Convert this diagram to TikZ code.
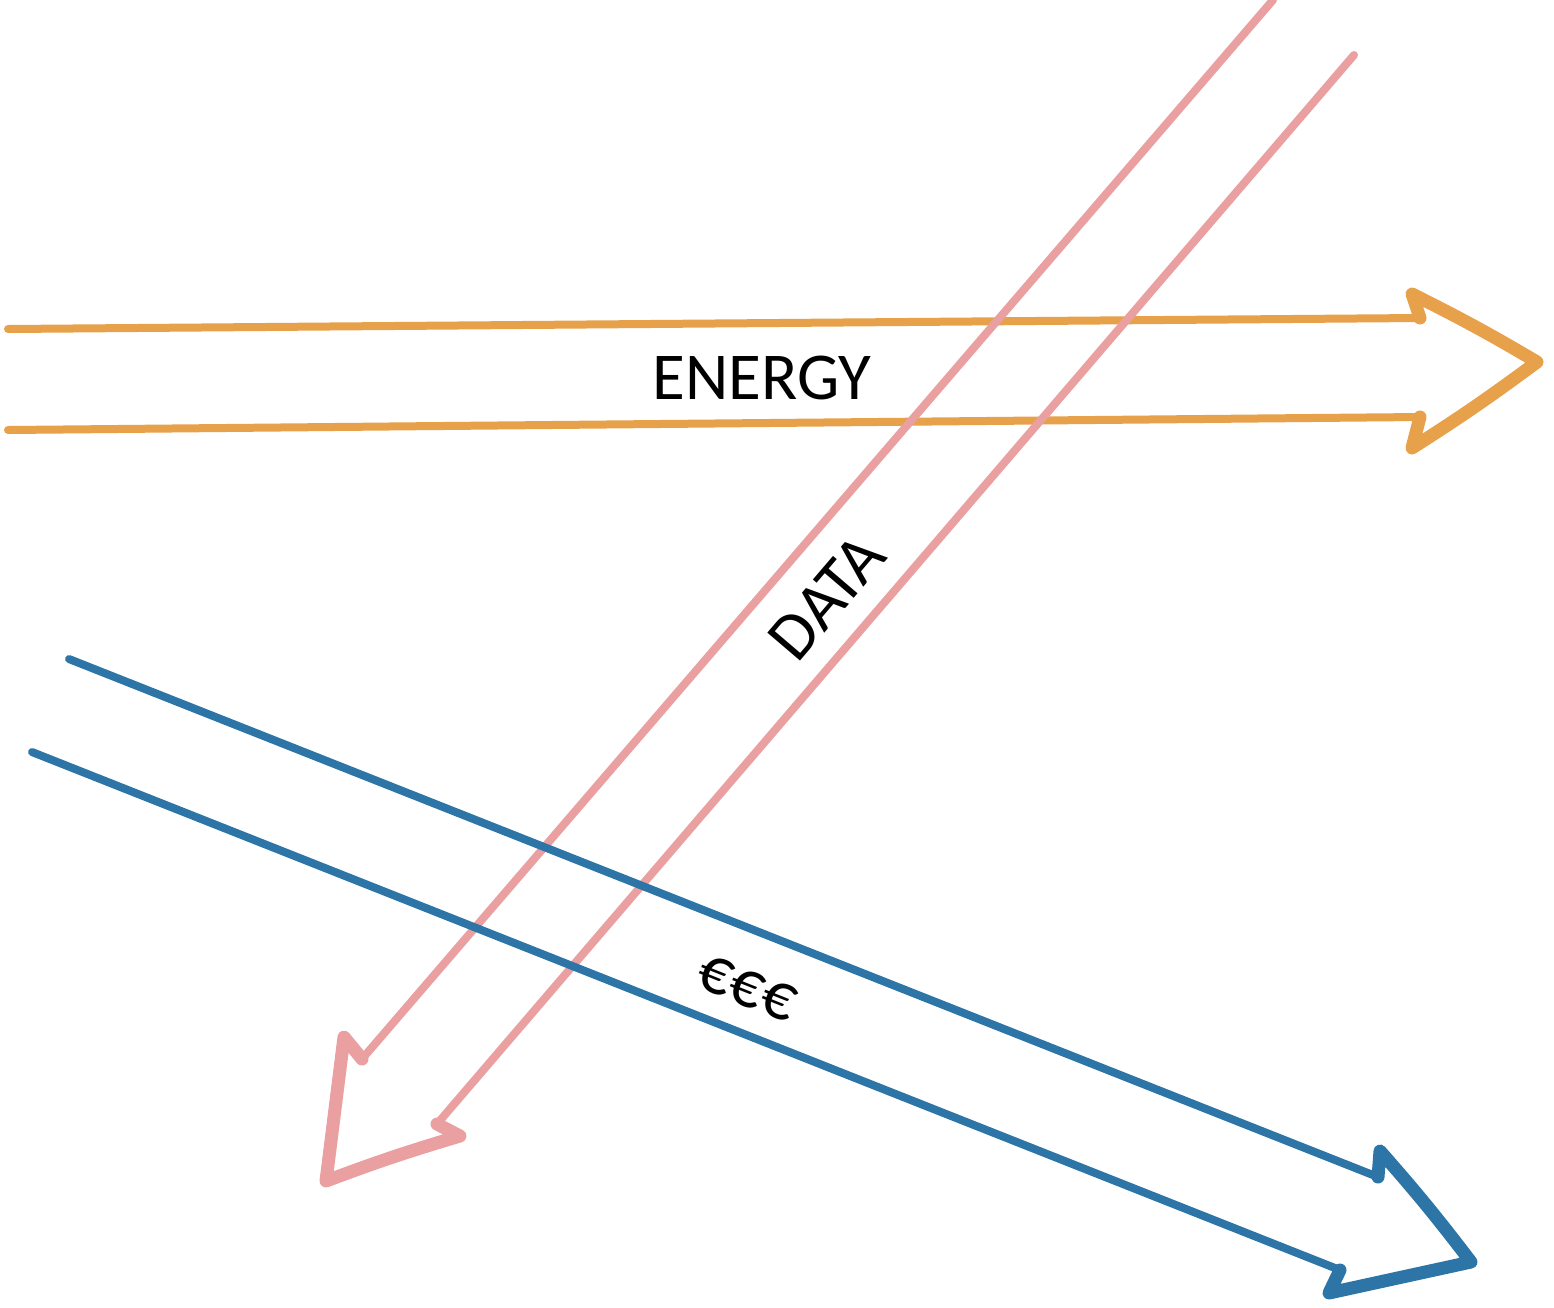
\documentclass[tikz,border=0pt]{standalone}
\usepackage{fontspec}
\setmainfont{Carlito}
\usepackage{xcolor}
\usetikzlibrary{positioning,calc}

\definecolor{energyorange}{RGB}{231,161,74}
\definecolor{datapink}{RGB}{234,160,160}
\definecolor{moneyblue}{RGB}{44,117,166}

\begin{document}
\begin{tikzpicture}[x=1pt, y=-1pt, line cap=round, line join=round,
  shaft/.style={line width=8pt},
  head/.style={line width=13pt},
  lbl/.style={font=\fontsize{67}{72}\selectfont, inner sep=0pt}]

\useasboundingbox (0,0) rectangle (1554,1307);

% energy arrow
\coordinate (e1) at (8,329);
\coordinate (e2) at (1420,318);
\coordinate (e3) at (1412,294);
\coordinate (e4) at (1537,362);
\coordinate (e5) at (1412,448);
\coordinate (e6) at (1420,417);
\coordinate (e7) at (8,430);
\draw[energyorange, shaft] (e1) -- (e2);
\draw[energyorange, shaft] (e7) -- (e6);
\draw[energyorange, head] (e2) -- (e3) to[bend left=2] (e4) to[bend left=2] (e5) -- (e6);

% data arrow
\coordinate (d1) at (1273,0);
\coordinate (d2) at (362,1059);
\coordinate (d3) at (344,1037);
\coordinate (d4) at (326,1181);
\coordinate (d5) at (460,1136);
\coordinate (d6) at (437,1124);
\coordinate (d7) at (1354,55);
\draw[datapink, shaft] (d1) -- (d2);
\draw[datapink, shaft] (d7) -- (d6);
\draw[datapink, head] (d2) -- (d3) -- (d4) to[bend left=2] (d5) -- (d6);

% money arrow
\coordinate (m1) at (69,659);
\coordinate (m2) at (1378,1177);
\coordinate (m3) at (1380,1151);
\coordinate (m4) at (1471,1262);
\coordinate (m5) at (1329,1293);
\coordinate (m6) at (1340,1270);
\coordinate (m7) at (32,752);
\draw[moneyblue, shaft] (m1) -- (m2);
\draw[moneyblue, shaft] (m7) -- (m6);
\draw[moneyblue, head] (m2) -- (m3) to[bend left=2] (m4) -- (m5) -- (m6);

\node[lbl] (energy) at (762,378) {ENERGY};
\node[lbl, rotate=49.5] (data) at (827,597) {DATA};
\node[lbl, rotate=-21.7] (money) at (747,988) {€€€};
\end{tikzpicture}
\end{document}
